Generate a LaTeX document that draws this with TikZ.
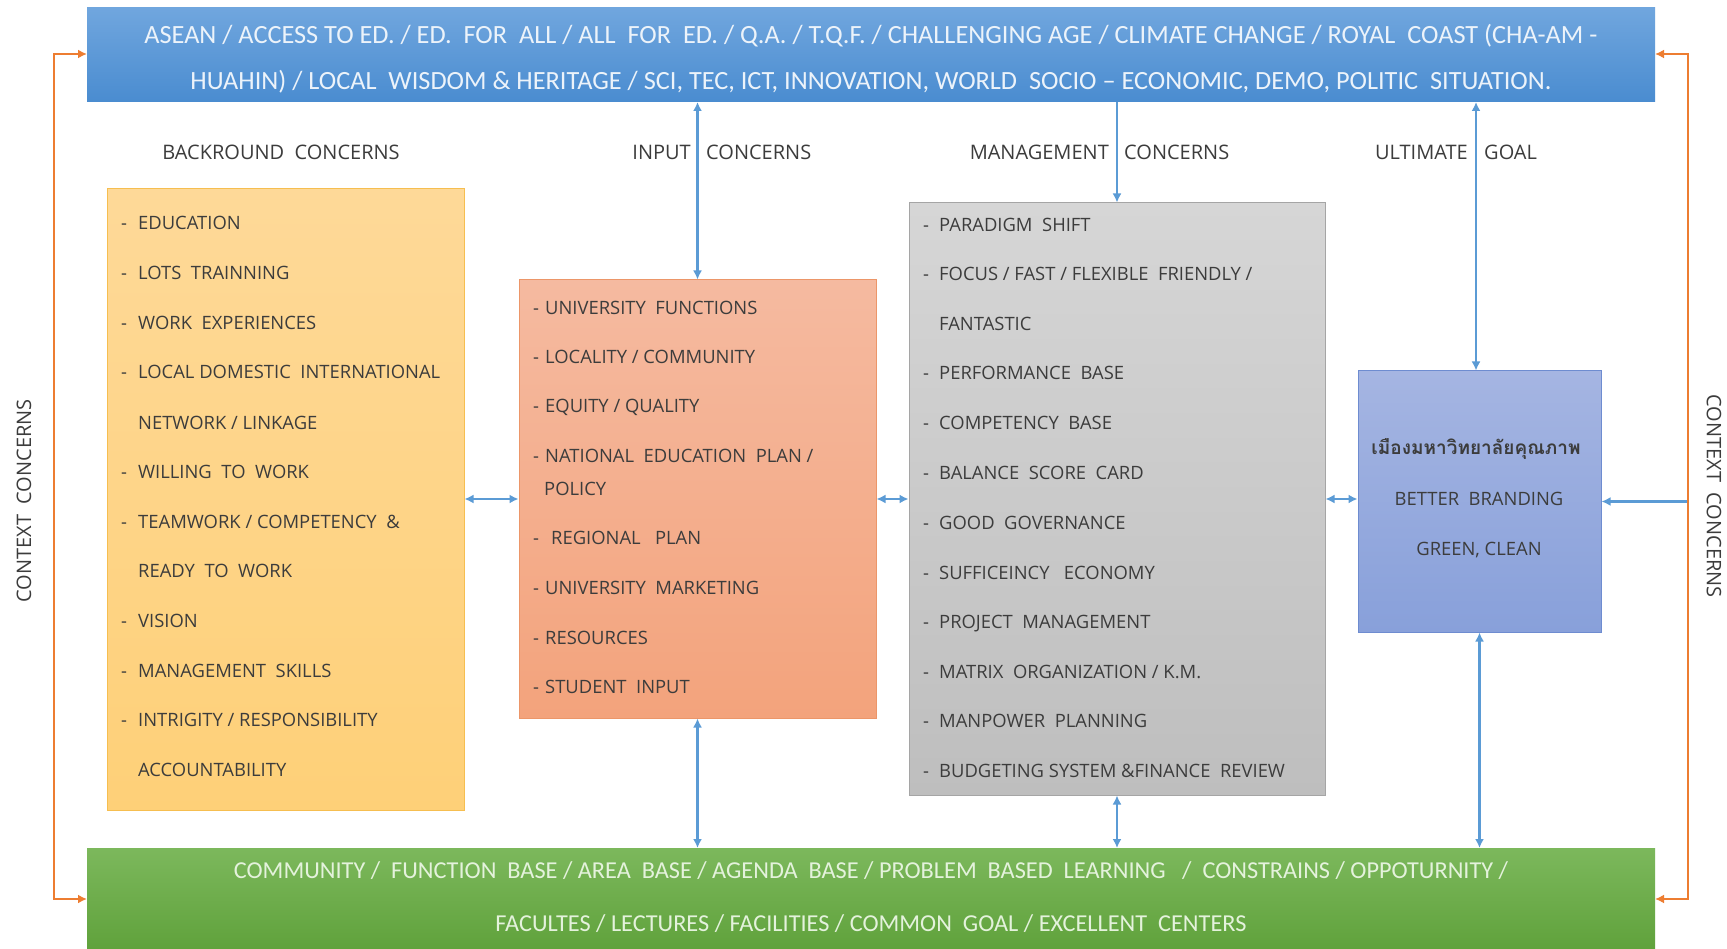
\documentclass[tikz,border=0pt]{standalone}
\usepackage{fontspec}
\setmainfont{Open Sans}
\newfontfamily\barfont{Carlito}
\newfontfamily\thaifont[Script=Thai]{Loma}
\usetikzlibrary{arrows.meta}
\definecolor{arrowblue}{RGB}{91,155,213}
\definecolor{orangeline}{RGB}{237,125,49}
\definecolor{txt}{RGB}{60,60,60}
\definecolor{inptxt}{RGB}{80,40,30}
\tikzset{
  box/.style={draw, line width=1pt, inner sep=0pt, minimum width=#1},
  bar/.style={inner sep=0pt, line width=0pt},
  itm/.style={anchor=base west, inner sep=0pt, text=txt, font=\fontsize{18.4}{20}\selectfont},
  hdr/.style={anchor=base, inner sep=0pt, text=txt, font=\fontsize{20}{22}\selectfont},
  bartxt/.style={inner sep=0pt, align=center, font=\barfont\fontsize{26.3}{46}\selectfont},
  barrow/.style={draw=arrowblue, line width=2.6pt, {Latex[length=9pt,width=9pt]}-{Latex[length=9pt,width=9pt]}},
  barrowone/.style={draw=arrowblue, line width=2.6pt, -{Latex[length=9pt,width=9pt]}},
  oarrow/.style={draw=orangeline, line width=2.6pt, {Latex[length=9pt,width=9pt]}-{Latex[length=9pt,width=9pt]}},
}
\begin{document}
\begin{tikzpicture}[x=1pt,y=-1pt]
\useasboundingbox[fill=white] (0,0) rectangle (1727,949);

% bars
\node[bar, minimum width=1568pt, minimum height=94pt, top color={rgb,255:red,112;green,166;blue,222}, bottom color={rgb,255:red,74;green,140;blue,208}] (top) at (871,55) {};
\node[bartxt, text={rgb,255:red,236;green,243;blue,250}] (toptxt) at (871,58.5) {ASEAN / ACCESS TO ED. / ED.\ \ FOR\ \ ALL / ALL\ \ FOR\ \ ED. / Q.A. / T.Q.F. / CHALLENGING AGE / CLIMATE CHANGE / ROYAL\ \ COAST (CHA-AM -\\HUAHIN) / LOCAL\ \ WISDOM \& HERITAGE / SCI, TEC, ICT, INNOVATION, WORLD\ \ SOCIO – ECONOMIC, DEMO, POLITIC\ \ SITUATION.};

\node[bar, minimum width=1568pt, minimum height=101pt, top color={rgb,255:red,124;green,184;blue,92}, bottom color={rgb,255:red,96;green,162;blue,60}] (bot) at (871,898.5) {};
\node[bartxt, font=\barfont\fontsize{24.3}{53}\selectfont, text={rgb,255:red,228;green,242;blue,220}] (bottxt) at (871,897) {COMMUNITY /\ \ FUNCTION\ \ BASE / AREA\ \ BASE / AGENDA\ \ BASE / PROBLEM\ \ BASED\ \ LEARNING\ \ \ /\ \ CONSTRAINS / OPPOTURNITY /\\FACULTES / LECTURES / FACILITIES / COMMON\ \ GOAL / EXCELLENT\ \ CENTERS};

% boxes
\node[box=357pt, minimum height=621pt, draw={rgb,255:red,246;green,190;blue,80}, top color={rgb,255:red,254;green,217;blue,152}, bottom color={rgb,255:red,254;green,208;blue,120}] (yel) at (285.5,499.5) {};
\node[box=357pt, minimum height=438pt, draw={rgb,255:red,236;green,150;blue,105}, top color={rgb,255:red,245;green,186;blue,160}, bottom color={rgb,255:red,243;green,163;blue,124}] (inp) at (697.5,499) {};
\node[box=416pt, minimum height=592pt, draw={rgb,255:red,165;green,165;blue,165}, top color={rgb,255:red,214;green,214;blue,214}, bottom color={rgb,255:red,190;green,190;blue,190}] (mgt) at (1117,499) {};
\node[box=243pt, minimum height=261pt, draw={rgb,255:red,110;green,140;blue,208}, top color={rgb,255:red,165;green,181;blue,226}, bottom color={rgb,255:red,136;green,160;blue,218}] (goal) at (1479.5,501.5) {};

% headers
\node[hdr] (h1) at (281,160) {BACKROUND\ \ CONCERNS};
\node[hdr, anchor=base east] (h2a) at (691,160) {INPUT};
\node[hdr, anchor=base west] (h2b) at (706,160) {CONCERNS};
\node[hdr, anchor=base east] (h3a) at (1109,160) {MANAGEMENT};
\node[hdr, anchor=base west] (h3b) at (1124,160) {CONCERNS};
\node[hdr, anchor=base east] (h4a) at (1468,160) {ULTIMATE};
\node[hdr, anchor=base west] (h4b) at (1484,160) {GOAL};

% context labels
\node[hdr, anchor=center, rotate=90] (cl) at (24,501) {CONTEXT\ \ CONCERNS};
\node[hdr, anchor=center, rotate=-90] (cr) at (1714,496) {CONTEXT\ \ CONCERNS};

% yellow items
\node[itm] (y1) at (121,229.5) {\makebox[17pt][l]{-}EDUCATION};
\node[itm] (y2) at (121,280) {\makebox[17pt][l]{-}LOTS\ \ TRAINNING};
\node[itm] (y3) at (121,330) {\makebox[17pt][l]{-}WORK\ \ EXPERIENCES};
\node[itm] (y4) at (121,379) {\makebox[17pt][l]{-}LOCAL DOMESTIC\ \ INTERNATIONAL};
\node[itm] (y5) at (121,429) {\makebox[17pt][l]{}NETWORK / LINKAGE};
\node[itm] (y6) at (121,478) {\makebox[17pt][l]{-}WILLING\ \ TO\ \ WORK};
\node[itm] (y7) at (121,528) {\makebox[17pt][l]{-}TEAMWORK / COMPETENCY\ \ \&};
\node[itm] (y8) at (121,577.5) {\makebox[17pt][l]{}READY\ \ TO\ \ WORK};
\node[itm] (y9) at (121,627) {\makebox[17pt][l]{-}VISION};
\node[itm] (y10) at (121,677) {\makebox[17pt][l]{-}MANAGEMENT\ \ SKILLS};
\node[itm] (y11) at (121,726) {\makebox[17pt][l]{-}INTRIGITY / RESPONSIBILITY};
\node[itm] (y12) at (121,776) {\makebox[17pt][l]{}ACCOUNTABILITY};

% input items
\begin{scope}[every node/.append style={text=inptxt}]
\node[itm] (i1) at (533,315) {\makebox[12pt][l]{-}UNIVERSITY\ \ FUNCTIONS};
\node[itm] (i2) at (533,364) {\makebox[12pt][l]{-}LOCALITY / COMMUNITY};
\node[itm] (i3) at (533,413) {\makebox[12pt][l]{-}EQUITY / QUALITY};
\node[itm] (i4) at (533,462) {\makebox[12pt][l]{-}NATIONAL\ \ EDUCATION\ \ PLAN /};
\node[itm] (i5) at (533,495) {\makebox[11pt][l]{}POLICY};
\node[itm] (i6) at (533,544.5) {\makebox[18pt][l]{-}REGIONAL\ \ \ PLAN};
\node[itm] (i7) at (533,594) {\makebox[12pt][l]{-}UNIVERSITY\ \ MARKETING};
\node[itm] (i8) at (533,644) {\makebox[12pt][l]{-}RESOURCES};
\node[itm] (i9) at (533,693) {\makebox[12pt][l]{-}STUDENT\ \ INPUT};
\end{scope}

% management items
\node[itm] (m1) at (923,232) {\makebox[16pt][l]{-}PARADIGM\ \ SHIFT};
\node[itm] (m2) at (923,281) {\makebox[16pt][l]{-}FOCUS / FAST / FLEXIBLE\ \ FRIENDLY /};
\node[itm] (m3) at (923,331) {\makebox[16pt][l]{}FANTASTIC};
\node[itm] (m4) at (923,380) {\makebox[16pt][l]{-}PERFORMANCE\ \ BASE};
\node[itm] (m5) at (923,430) {\makebox[16pt][l]{-}COMPETENCY\ \ BASE};
\node[itm] (m6) at (923,479.5) {\makebox[16pt][l]{-}BALANCE\ \ SCORE\ \ CARD};
\node[itm] (m7) at (923,529) {\makebox[16pt][l]{-}GOOD\ \ GOVERNANCE};
\node[itm] (m8) at (923,579) {\makebox[16pt][l]{-}SUFFICEINCY\ \ \ ECONOMY};
\node[itm] (m9) at (923,628) {\makebox[16pt][l]{-}PROJECT\ \ MANAGEMENT};
\node[itm] (m10) at (923,678) {\makebox[16pt][l]{-}MATRIX\ \ ORGANIZATION / K.M.};
\node[itm] (m11) at (923,727) {\makebox[16pt][l]{-}MANPOWER\ \ PLANNING};
\node[itm] (m12) at (923,777) {\makebox[16pt][l]{-}BUDGETING SYSTEM \&FINANCE\ \ REVIEW};

% goal items
\node[itm, anchor=base] (g1) at (1476,454) {\thaifont\bfseries\fontsize{19}{20}\selectfont เมืองมหาวิทยาลัยคุณภาพ};
\node[itm, anchor=base] (g2) at (1479,505) {BETTER\ \ BRANDING};
\node[itm, anchor=base] (g3) at (1479,555.5) {GREEN, CLEAN};

% vertical connectors
\draw[barrow] (top.south -| inp.north) -- (inp.north);
\draw[barrow] (inp.south) -- (inp.south |- bot.north);
\draw[barrowone] (top.south -| mgt.north) -- (mgt.north);
\draw[barrow] (mgt.south) -- (mgt.south |- bot.north);
\draw[barrow] ([xshift=-3.5pt]goal.north |- top.south) -- ([xshift=-3.5pt]goal.north);
\draw[barrow] (goal.south) -- (goal.south |- bot.north);

% horizontal connectors
\draw[barrow] (yel.east |- inp.west) -- (inp.west);
\draw[barrow] (inp.east) -- (inp.east -| mgt.west);
\draw[barrow] (mgt.east) -- (mgt.east -| goal.west);
\coordinate (rc) at (1688,501.5);
\draw[barrowone] (rc) -- (goal.east);

% orange context loops
\coordinate (lt) at (54,54);
\coordinate (lb) at (54,899);
\coordinate (rt) at (1688,54);
\coordinate (rb) at (1688,899);
\draw[oarrow] (lt -| top.west) -- (lt) -- (lb) -- (lb -| bot.west);
\draw[oarrow] (rt -| top.east) -- (rt) -- (rb) -- (rb -| bot.east);
\end{tikzpicture}
\end{document}
